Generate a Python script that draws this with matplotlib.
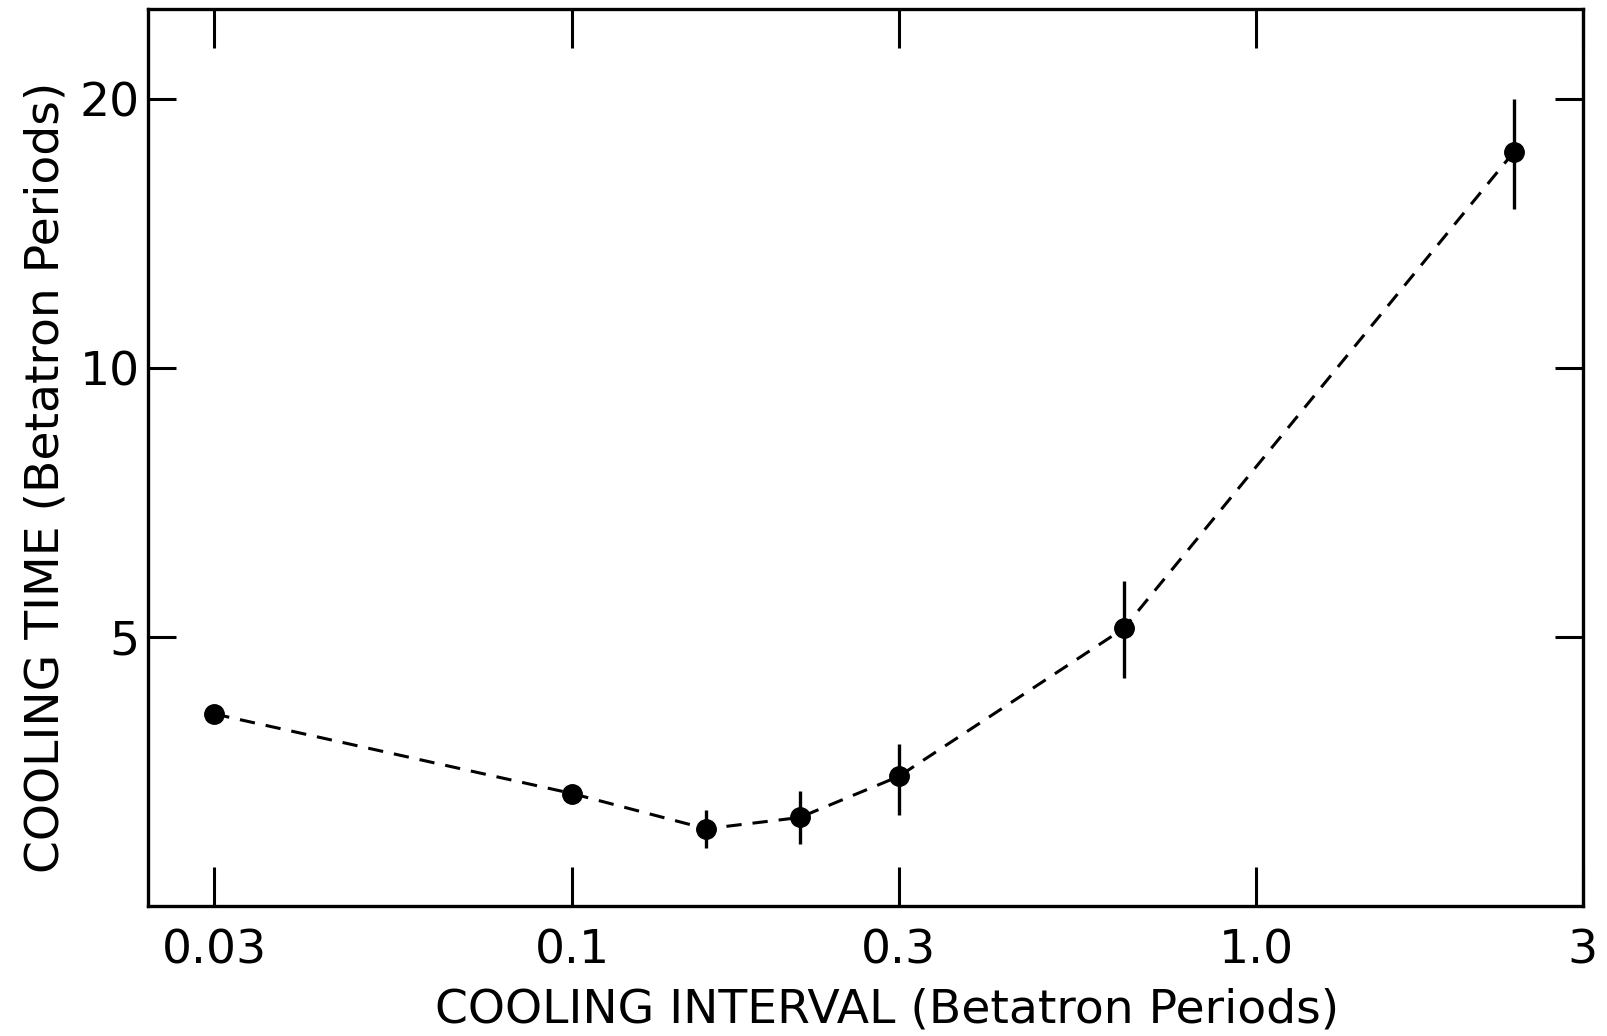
import matplotlib
matplotlib.use("Agg")
import matplotlib.pyplot as plt
from matplotlib.ticker import NullLocator, FixedLocator, FixedFormatter
import numpy as np

# cooling interval and cooling time, both in betatron periods
interval = [0.03, 0.1, 0.157, 0.215, 0.3, 0.64, 2.38]
cool_time = [4.10, 3.34, 3.05, 3.14, 3.49, 5.11, 17.45]
# ends of the error bars (same as the point where no bar is drawn)
err_low = [4.10, 3.34, 2.90, 2.93, 3.16, 4.50, 15.05]
err_high = [4.10, 3.34, 3.20, 3.36, 3.79, 5.78, 20.0]

xticks = [0.03, 0.1, 0.3, 1.0, 3.0]
xtick_labels = ["0.03", "0.1", "0.3", "1.0", "3"]
yticks = [5, 10, 20]
ytick_labels = ["5", "10", "20"]

plt.rcParams["font.family"] = ["DejaVu Sans"]

fig = plt.figure(figsize=(16.07, 10.36), dpi=100)
ax = fig.add_axes([0.0921, 0.1255, 0.8929, 0.8658])

y = np.array(cool_time)
yerr = [y - np.array(err_low), np.array(err_high) - y]

ax.plot(interval, cool_time, color="black", lw=2.2, dashes=(5, 3.6), zorder=2)
ax.errorbar(interval, cool_time, yerr=yerr, fmt="o", color="black",
            markersize=14, elinewidth=2.4, capsize=0, zorder=3)

ax.set_xscale("log")
ax.set_yscale("log")
ax.set_xlim(0.024, 3.0)
ax.set_ylim(2.5, 25.2)

ax.xaxis.set_major_locator(FixedLocator(xticks))
ax.xaxis.set_major_formatter(FixedFormatter(xtick_labels))
ax.xaxis.set_minor_locator(NullLocator())
ax.yaxis.set_major_locator(FixedLocator(yticks))
ax.yaxis.set_major_formatter(FixedFormatter(ytick_labels))
ax.yaxis.set_minor_locator(NullLocator())

ax.tick_params(axis="x", which="major", direction="in", length=28, width=2.2,
               top=True, labelsize=34, pad=16)
ax.tick_params(axis="y", which="major", direction="in", length=20, width=2.2,
               right=True, labelsize=34, pad=6)
for side in ax.spines.values():
    side.set_linewidth(2.4)

ax.set_xlabel("COOLING INTERVAL (Betatron Periods)", fontsize=34, labelpad=10)
ax.set_ylabel("COOLING TIME (Betatron Periods)", fontsize=34, labelpad=8)
ax.xaxis.label.set_x(0.515)
ax.yaxis.label.set_y(0.478)

fig.savefig("out.png", dpi=100)
